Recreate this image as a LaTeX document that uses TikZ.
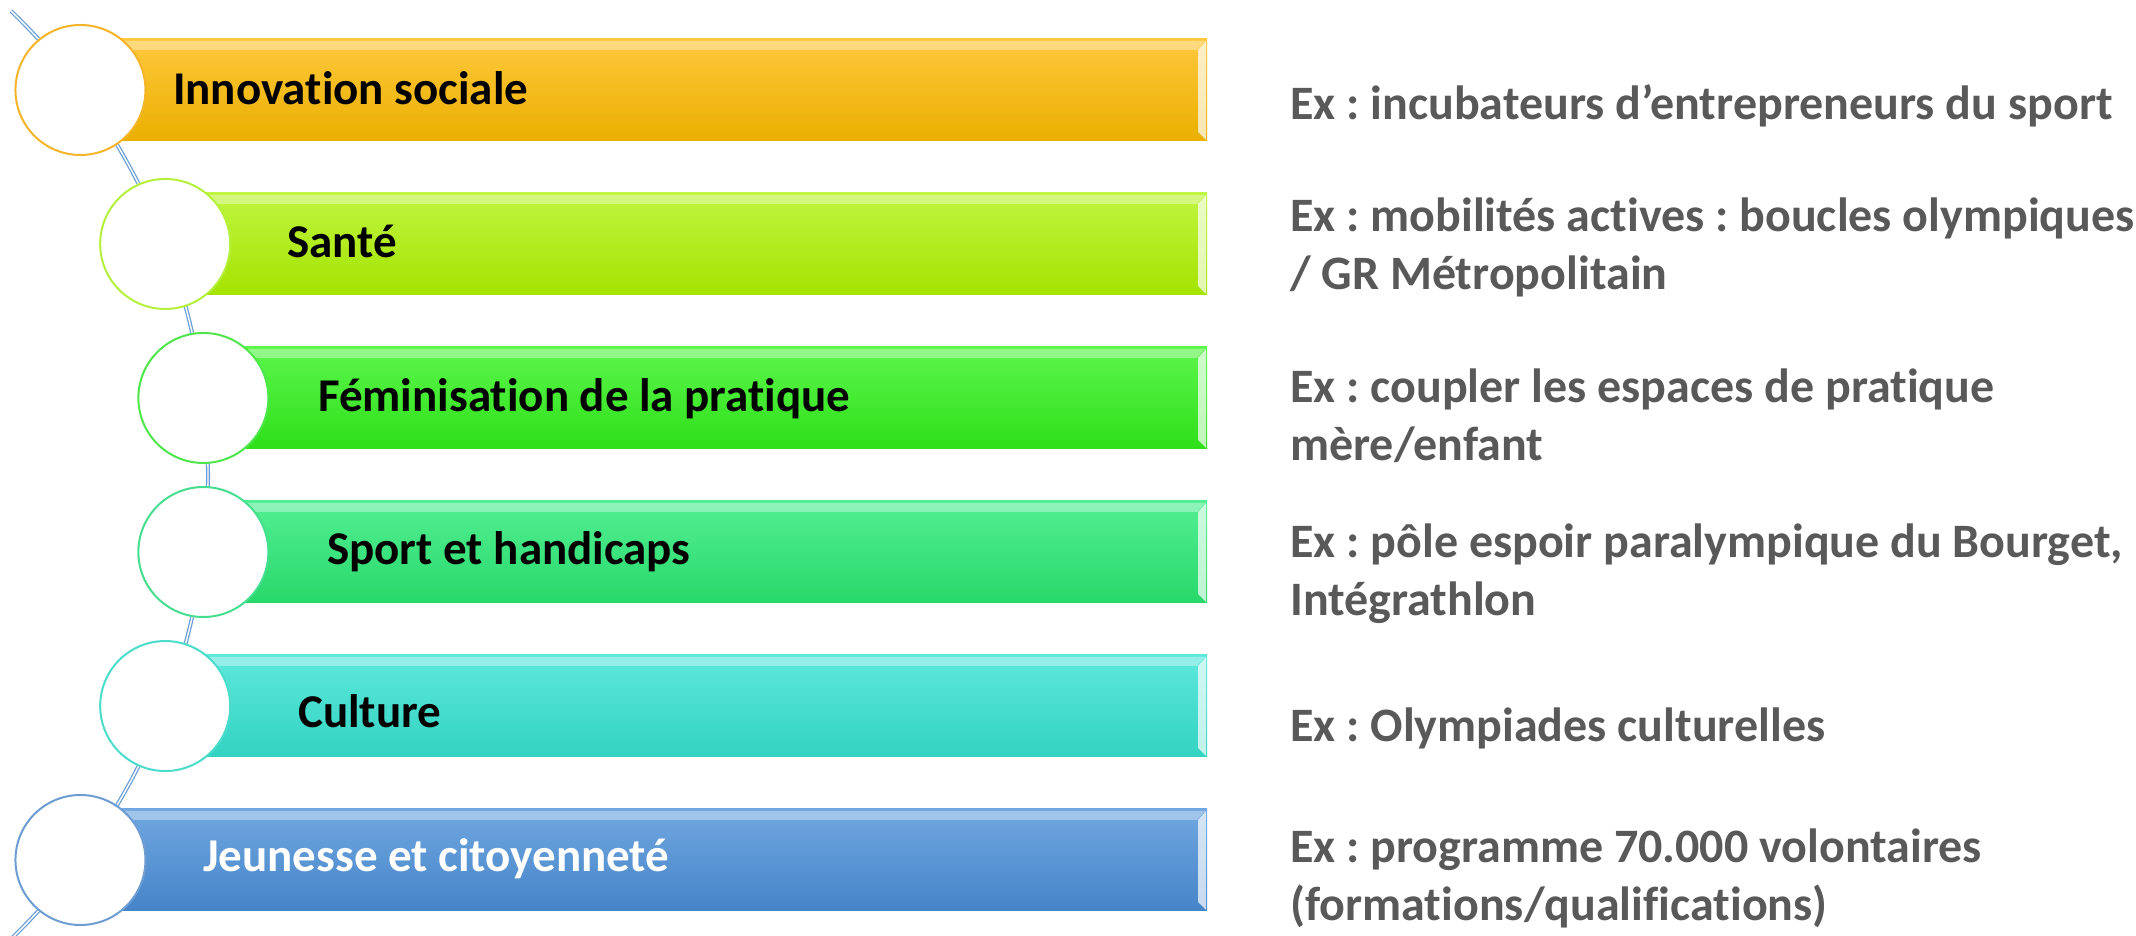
\documentclass[tikz,border=0pt]{standalone}
\usepackage{fontspec}
\setmainfont{Carlito}[Ligatures=NoCommon]
\usetikzlibrary{calc}
\frenchspacing
\definecolor{arcblue}{HTML}{6B9FD6}
\definecolor{txtgray}{HTML}{595959}
\definecolor{bdA}{HTML}{F5B52A}\definecolor{tA}{HTML}{FFC83C}\definecolor{mA}{HTML}{FFC000}\definecolor{lA}{HTML}{EAAF00}
\definecolor{bdB}{HTML}{B4F03C}\definecolor{tB}{HTML}{C0F540}\definecolor{mB}{HTML}{B3F31A}\definecolor{lB}{HTML}{A4E300}
\definecolor{bdC}{HTML}{4EE64A}\definecolor{tC}{HTML}{5CF64C}\definecolor{mC}{HTML}{3CF02A}\definecolor{lC}{HTML}{2EDF19}
\definecolor{bdD}{HTML}{45DE8E}\definecolor{tD}{HTML}{52EF92}\definecolor{mD}{HTML}{35E47A}\definecolor{lD}{HTML}{28D86A}
\definecolor{bdE}{HTML}{4CDCCB}\definecolor{tE}{HTML}{5CE8DB}\definecolor{mE}{HTML}{45E0D0}\definecolor{lE}{HTML}{33D3C1}
\definecolor{bdF}{HTML}{6D9DD3}\definecolor{tF}{HTML}{70A7E0}\definecolor{mF}{HTML}{5B97D6}\definecolor{lF}{HTML}{4584C8}
\tikzset{
  bubble/.style={circle, minimum size=130, inner sep=0, fill=white, line width=2},
  barbox/.style={rectangle, minimum height=102, inner sep=0},
  barlabel/.style={anchor=base west, inner sep=0, font=\fontsize{47}{56}\selectfont\bfseries},
  extext/.style={anchor=base west, inner sep=0, text=txtgray, font=\fontsize{48}{58}\selectfont\bfseries},
  toplight/.style={white, opacity=0.35},
  sidelight/.style={white, opacity=0.7},
}
\newcommand{\bevel}[1]{%
  \fill[toplight] ($(#1.north west)+(0,-2)$) -- ($(#1.north east)+(-2,-2)$) -- ($(#1.north east)+(-10,-11)$) -- ($(#1.north west)+(0,-11)$) -- cycle;
  \fill[sidelight] ($(#1.north east)+(-1,-2)$) -- ($(#1.south east)+(-1,1)$) -- ($(#1.south east)+(-9,9)$) -- ($(#1.north east)+(-9,-11)$) -- cycle;
}
\begin{document}
\begin{tikzpicture}[x=1pt,y=1pt]
\useasboundingbox (0,0) rectangle (2136,936);
\clip (0,0) rectangle (2136,936);
\coordinate (O) at (-437,461);
\coordinate (arcstart) at ($(O)+(46:645)$);
% spine
\draw[arcblue, line width=1.3, double=white, double distance=1.4]
  (arcstart) arc[start angle=46, end angle=-47, radius=645];
% bars
\node[barbox, top color=tA, middle color=mA, bottom color=lA] (b1) at (643.75,846) [minimum width=1126.5] {};
\node[barbox, top color=tB, middle color=mB, bottom color=lB] (b2) at (686.1,692) [minimum width=1041.8] {};
\node[barbox, top color=tC, middle color=mC, bottom color=lC] (b3) at (705.2,538) [minimum width=1003.6] {};
\node[barbox, top color=tD, middle color=mD, bottom color=lD] (b4) at (705.2,384) [minimum width=1003.6] {};
\node[barbox, top color=tE, middle color=mE, bottom color=lE] (b5) at (686.1,230) [minimum width=1041.8] {};
\node[barbox, top color=tF, middle color=mF, bottom color=lF] (b6) at (643.75,76) [minimum width=1126.5] {};
\bevel{b1}\bevel{b2}\bevel{b3}\bevel{b4}\bevel{b5}\bevel{b6}
% circles
\node[bubble, draw=bdA] (k1) at ($(O)+(36.65:645)$) {};
\node[bubble, draw=bdB] (k2) at ($(O)+(20.99:645)$) {};
\node[bubble, draw=bdC] (k3) at ($(O)+(6.86:645)$) {};
\node[bubble, draw=bdD] (k4) at ($(O)+(-6.86:645)$) {};
\node[bubble, draw=bdE] (k5) at ($(O)+(-20.99:645)$) {};
\node[bubble, draw=bdF] (k6) at ($(O)+(-36.65:645)$) {};
% bar labels
\node[barlabel] (l1) at (173,831) {Innovation sociale};
\node[barlabel] (l2) at (287,678) {Santé};
\node[barlabel] (l3) at (318,524) {Féminisation de la pratique};
\node[barlabel] (l4) at (327,371) {Sport et handicaps};
\node[barlabel] (l5) at (298,208) {Culture};
\node[barlabel, text=white] (l6) at (203,64) {Jeunesse et citoyenneté};
% examples
\node[extext] (e1) at (1290,816) {Ex : incubateurs d’entrepreneurs du sport};
\node[extext] (e2) at (1290,704) {\vtop{\hbox{Ex : mobilités actives : boucles olympiques}\hbox{/ GR Métropolitain}}};
\node[extext] (e3) at (1290,533) {\vtop{\hbox{Ex : coupler les espaces de pratique}\hbox{mère/enfant}}};
\node[extext] (e4) at (1290,378) {\vtop{\hbox{Ex : pôle espoir paralympique du Bourget,}\hbox{Intégrathlon}}};
\node[extext] (e5) at (1290,194) {Ex : Olympiades culturelles};
\node[extext] (e6) at (1290,73) {\vtop{\hbox{Ex : programme 70.000 volontaires}\hbox{(formations/qualifications)}}};
\end{tikzpicture}
\end{document}
